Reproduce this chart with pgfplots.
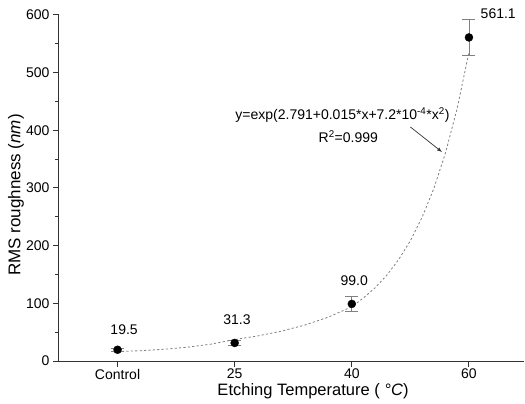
\documentclass[border=0pt]{standalone}
\usepackage{pgfplots}
\pgfplotsset{compat=1.18}
\usepackage{fontspec}
\setmainfont{Liberation Sans}
\usetikzlibrary{calc}
\begin{document}
\begin{tikzpicture}
\begin{axis}[
  scale only axis, width=465bp, height=346bp,
  xmin=-0.5, xmax=3.47, ymin=0, ymax=600,
  axis x line=bottom, axis y line=left,
  axis line style={-, line width=1bp, black!80},
  tick align=outside,
  xtick={0,1,2,3}, xticklabels={Control,25,40,60},
  ytick={0,100,...,600}, minor ytick={50,150,...,550},
  major tick length=6bp, minor tick length=4bp,
  tick style={line width=1bp, black!80},
  ticklabel style={font=\fontsize{14bp}{16bp}\selectfont},
  xticklabel style={yshift=1.5bp},
  /pgf/number format/assume math mode=true,
  clip=false,
]
\coordinate (O) at (rel axis cs:0,0);
% fitted curve (traced)
\addplot[gray, dashed, dash pattern=on 2.2bp off 2.2bp, line width=0.8bp] coordinates {
(0,16.3) (0.2,17.9) (0.4,20.4) (0.6,24.0) (0.8,29.3) (1,37.2)
(1.2,43.6) (1.4,51.8) (1.6,62.4) (1.8,76.1) (2,94.0)
(2.1,109.5) (2.2,127.1) (2.3,149.0) (2.4,175.9) (2.5,208.5) (2.6,249.1)
(2.7,299.0) (2.8,361.0) (2.9,438.5) (3,535.4)};
% data
\addplot[only marks, mark=*, mark size=4bp, black,
  error bars/.cd, y dir=both, y explicit,
  error bar style={gray, line width=0.8bp},
  error mark options={rotate=90, gray, mark size=6.5bp, line width=0.8bp}]
coordinates {(0,19.5) +- (0,3) (1,31.3) +- (0,4) (2,99.0) +- (0,13.5) (3,561.1) +- (0,31)};
\begin{scope}[font=\fontsize{14bp}{16bp}\selectfont]
\node at (axis cs:0.056,53.8) {19.5};
\node at (axis cs:1.02,71) {31.3};
\node at (axis cs:2.02,140) {99.0};
\node at (axis cs:3.25,601.7) {561.1};
\node at (axis cs:1.92,426.6) {y=exp(2.791+0.015*x+7.2*10\textsuperscript{-4}*x\textsuperscript{2})};
\node at (axis cs:1.97,388.4) {R\textsuperscript{2}=0.999};
\end{scope}
\draw[-latex, line width=0.7bp, black!80] (axis cs:2.5,405.8) -- (axis cs:2.77,362.4);
\end{axis}
\node[font=\fontsize{16.5bp}{19bp}\selectfont] at ($(O)+(254bp,-30.5bp)$) {Etching Temperature ( \textit{°C})};
\node[font=\fontsize{17bp}{19bp}\selectfont, rotate=90] at ($(O)+(-43bp,166bp)$) {RMS roughness (\textit{nm})};
\pgfresetboundingbox
\path[use as bounding box] ($(O)+(-59bp,-43bp)$) rectangle ($(O)+(466bp,361bp)$);
\end{tikzpicture}
\end{document}
